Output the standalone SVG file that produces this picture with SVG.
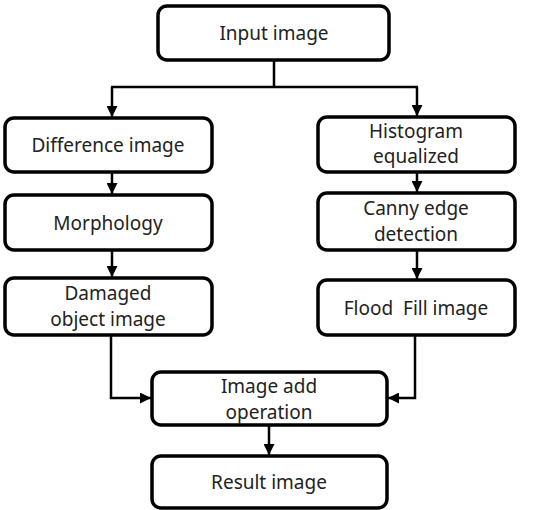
<svg xmlns="http://www.w3.org/2000/svg" width="551" height="510" viewBox="0 0 551 510">
<defs>
<style>
.box{fill:#fff;stroke:#000;stroke-width:3.5}
.t{font-family:"Noto Sans","Liberation Sans",sans-serif;font-size:19px;fill:#222;text-anchor:middle;white-space:pre}
.c{fill:none;stroke:#000;stroke-width:2.5}
</style>
<marker id="ah" viewBox="0 0 10 10" refX="10" refY="5" markerWidth="11" markerHeight="11" orient="auto" markerUnits="userSpaceOnUse">
<path d="M0,0 L10,5 L0,10 z" fill="#000"/>
</marker>
</defs>
<g id="connectors">
<path class="c" d="M274,60 V87 M111,87 H418"/>
<path class="c" d="M112,87 V117" marker-end="url(#ah)"/>
<path class="c" d="M417,87 V116" marker-end="url(#ah)"/>
<path class="c" d="M112,172 V194" marker-end="url(#ah)"/>
<path class="c" d="M417,172 V192" marker-end="url(#ah)"/>
<path class="c" d="M112,250 V277" marker-end="url(#ah)"/>
<path class="c" d="M417,250 V279" marker-end="url(#ah)"/>
<path class="c" d="M111,335 V398 H151" marker-end="url(#ah)"/>
<path class="c" d="M415,335 V398 H388" marker-end="url(#ah)"/>
<path class="c" d="M269,425 V455" marker-end="url(#ah)"/>
</g>
<g id="input"><rect class="box" x="158" y="6" width="231" height="54" rx="9"/><text class="t" x="274" y="40">Input image</text></g>
<g id="difference"><rect class="box" x="5" y="118" width="207" height="54" rx="9"/><text class="t" x="108" y="152">Difference image</text></g>
<g id="histogram"><rect class="box" x="318" y="117" width="197" height="55" rx="9"/><text class="t" x="416" y="138">Histogram</text><text class="t" x="416" y="163">equalized</text></g>
<g id="morphology"><rect class="box" x="5" y="195" width="207" height="55" rx="9"/><text class="t" x="108" y="230">Morphology</text></g>
<g id="canny"><rect class="box" x="318" y="193" width="197" height="57" rx="9"/><text class="t" x="416" y="215">Canny edge</text><text class="t" x="416" y="241">detection</text></g>
<g id="damaged"><rect class="box" x="5" y="278" width="207" height="57" rx="9"/><text class="t" x="108" y="300">Damaged</text><text class="t" x="108" y="326">object image</text></g>
<g id="floodfill"><rect class="box" x="318" y="280" width="197" height="55" rx="9"/><text class="t" x="416" y="315">Flood  Fill image</text></g>
<g id="imageadd"><rect class="box" x="152" y="372" width="235" height="53" rx="9"/><text class="t" x="269" y="393">Image add</text><text class="t" x="269" y="419">operation</text></g>
<g id="result"><rect class="box" x="152" y="456" width="235" height="52" rx="9"/><text class="t" x="269" y="489">Result image</text></g>
</svg>
